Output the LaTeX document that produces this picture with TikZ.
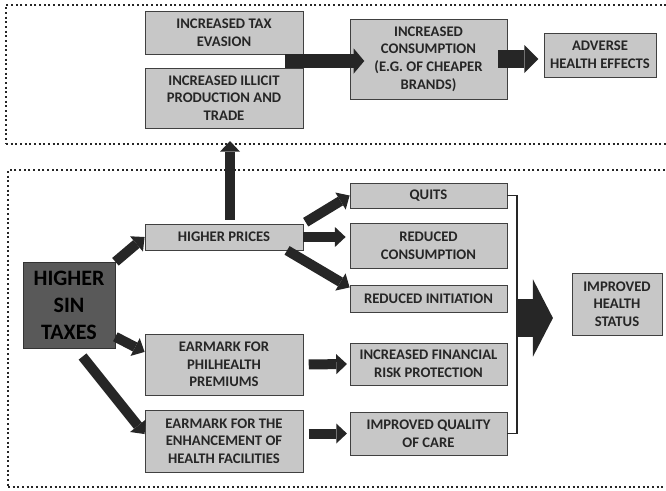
\documentclass[tikz,border=0pt]{standalone}
\usepackage{fontspec}
\setmainfont{Carlito}
\usetikzlibrary{arrows.meta}

\begin{document}
\begin{tikzpicture}[x=0.75pt, y=-0.75pt,
  box/.style={draw=black!75, fill=black!22, line width=0.6pt, align=center, inner sep=1pt, text=black!85, font=\fontsize{11}{13.2}\selectfont\bfseries},
  frame/.style={draw=black!85, line width=1.5pt, dash pattern=on 1.5pt off 2pt},
  fat/.style={draw=black!85, line width=7.5pt, -{Triangle[length=8pt, width=15pt, line width=0pt]}}]
\useasboundingbox (0,0) rectangle (666,490);
\node[frame, minimum width=496.5pt, minimum height=104.25pt] (upper) at (337,74.5) {};
\node[frame, minimum width=495pt, minimum height=237.75pt] (lower) at (338,328.5) {};
\node[box, minimum width=118.5pt, minimum height=32.25pt] (taxev) at (224,32.5) {INCREASED TAX\\EVASION};
\node[box, minimum width=118.5pt, minimum height=45pt] (illicit) at (224,98) {INCREASED ILLICIT\\PRODUCTION AND\\TRADE};
\node[box, minimum width=117.75pt, minimum height=60pt] (incons) at (428.5,59) {INCREASED\\CONSUMPTION\\(E.G. OF CHEAPER\\BRANDS)};
\node[box, minimum width=84pt, minimum height=33pt] (adverse) at (600,55) {ADVERSE\\HEALTH EFFECTS};
\node[box, fill=black!65, draw=black!80, text=black, minimum width=69pt, minimum height=65pt, font=\fontsize{16.5}{20.5}\selectfont\bfseries] (sintax) at (69,305.5) {HIGHER\\SIN\\TAXES};
\node[box, minimum width=118.5pt, minimum height=19.5pt] (prices) at (224,237) {HIGHER PRICES};
\node[box, minimum width=118.5pt, minimum height=45.75pt] (philh) at (224,364.5) {EARMARK FOR\\PHILHEALTH\\PREMIUMS};
\node[box, minimum width=118.5pt, minimum height=46.5pt] (enhance) at (224,441) {EARMARK FOR THE\\ENHANCEMENT OF\\HEALTH FACILITIES};
\node[box, minimum width=117.75pt, minimum height=18.75pt] (quits) at (428.5,195.5) {QUITS};
\node[box, minimum width=117.75pt, minimum height=33.75pt] (redcons) at (428.5,245.5) {REDUCED\\CONSUMPTION};
\node[box, minimum width=117.75pt, minimum height=20.25pt] (redinit) at (428.5,298.5) {REDUCED INITIATION};
\node[box, minimum width=117.75pt, minimum height=31.5pt] (finrisk) at (428.5,364) {INCREASED FINANCIAL\\RISK PROTECTION};
\node[box, minimum width=117.75pt, minimum height=32.25pt] (quality) at (428.5,433.5) {IMPROVED QUALITY\\OF CARE};
\node[box, minimum width=67.5pt, minimum height=46.5pt] (health) at (617,304) {IMPROVED\\HEALTH\\STATUS};
\coordinate (gap) at (285,61);
\coordinate (brk) at (517,318);
\draw[fat, line width=10pt, -{Triangle[length=8pt, width=19pt, line width=0pt]}, shorten >=-11pt] (gap) -- (gap -| incons.west);
\draw[fat, line width=13pt, -{Triangle[length=10.5pt, width=21pt, line width=0pt]}, shorten <=-7pt, shorten >=4pt] (incons.east) -- (incons.east -| adverse.west);
\draw[fat, shorten <=3pt, shorten >=-3pt] ([xshift=4.5pt]prices.north) -- ([xshift=4.5pt]prices.north |- upper.south);
\draw[fat] (sintax.north east) -- (prices.west);
\draw[fat] (sintax.-34) -- (philh.171);
\draw[fat, shorten <=7pt] (sintax.-80) -- (enhance.175);
\draw[fat, shorten <=2pt] (prices.north east) -- (quits.west);
\draw[fat, shorten >=3pt] (prices.east) -- (prices.east -| redcons.west);
\draw[fat] (prices.-12) -- (redinit.172);
\draw[fat, shorten <=4pt, shorten >=2pt] (philh.east) -- (finrisk.west);
\draw[fat, shorten <=4pt, shorten >=2pt] (enhance.east |- quality.west) -- (quality.west);
\draw[black!85, line width=1pt] (quits.east) -- (quits.east -| brk) -- (quality.east -| brk) -- (quality.east);
\draw[fat, line width=28.5pt, -{Triangle[length=15pt, width=58pt, line width=0pt]}, shorten >=14pt] (brk) -- (brk -| health.west);
\end{tikzpicture}
\end{document}
